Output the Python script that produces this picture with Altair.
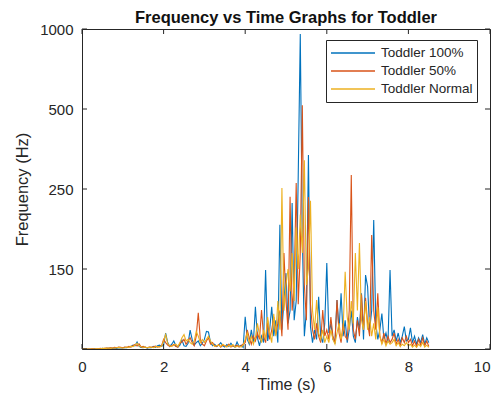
import altair as alt
import pandas as pd

# ---------------- data ----------------
times = [round(i * 0.05, 2) for i in range(171)]  # sampling grid 0 .. 8.5 s

toddler_100 = [
    0, 0, 0, 0, 0, 0, 1, 0, 1, 1, 2, 1, 2, 2, 3, 2, 3, 2, 4, 3,
    3, 5, 4, 6, 8, 12, 10, 22, 8, 5, 4, 6, 3, 5, 4, 8, 5, 10, 12, 8,
    12, 50, 20, 8, 15, 25, 10, 6, 12, 28, 10, 8, 18, 59, 30, 12, 20, 25, 10, 18,
    30, 55, 53, 20, 10, 15, 8, 12, 20, 10, 6, 14, 8, 18, 10, 6, 22, 8, 12, 5,
    101, 30, 15, 60, 20, 132, 35, 10, 40, 20, 247, 25, 60, 132, 40, 90, 20, 388, 60, 150,
    237, 80, 120, 456, 90, 150, 544, 984, 351, 40, 120, 606, 70, 20, 60, 30, 163, 40, 20, 80,
    269, 50, 80, 30, 20, 153, 60, 174, 40, 90, 20, 60, 120, 40, 20, 100, 60, 174, 30, 231,
    195, 60, 120, 403, 80, 30, 60, 111, 30, 50, 20, 247, 40, 60, 25, 50, 20, 40, 70, 25,
    30, 66, 20, 40, 15, 35, 20, 45, 15, 35, 20,
]
toddler_50 = [
    0, 0, 0, 0, 0, 1, 0, 1, 1, 2, 1, 2, 3, 2, 4, 3, 5, 4, 6, 5,
    4, 6, 5, 8, 6, 10, 14, 9, 16, 6, 8, 5, 4, 6, 5, 7, 9, 6, 8, 10,
    30, 20, 12, 8, 10, 14, 8, 6, 18, 22, 30, 15, 25, 35, 20, 10, 40, 113, 30, 15,
    10, 25, 35, 15, 20, 10, 8, 14, 6, 12, 10, 8, 15, 6, 10, 8, 12, 6, 10, 15,
    20, 60, 35, 15, 40, 25, 50, 30, 122, 40, 20, 90, 30, 60, 100, 45, 80, 120, 40, 300,
    150, 60, 476, 120, 200, 519, 140, 300, 762, 200, 90, 475, 140, 60, 30, 80, 40, 20, 122, 40,
    60, 30, 100, 40, 20, 153, 50, 20, 80, 40, 30, 120, 544, 60, 30, 90, 40, 170, 60, 160,
    80, 40, 356, 120, 60, 174, 40, 20, 50, 15, 40, 20, 30, 50, 15, 30, 10, 35, 20, 40,
    20, 30, 10, 25, 8, 30, 12, 35, 10, 25, 8,
]
toddler_normal = [
    0, 0, 0, 0, 0, 0, 0, 1, 1, 1, 2, 2, 2, 3, 2, 3, 3, 4, 5, 4,
    3, 4, 6, 5, 9, 7, 12, 18, 10, 7, 5, 6, 4, 5, 6, 4, 7, 8, 6, 9,
    25, 45, 18, 10, 8, 12, 15, 8, 20, 35, 45, 25, 30, 20, 15, 25, 55, 40, 20, 30,
    20, 30, 40, 25, 15, 8, 10, 12, 8, 15, 10, 6, 12, 8, 14, 6, 8, 10, 6, 12,
    30, 50, 20, 40, 15, 35, 80, 45, 20, 60, 30, 100, 50, 20, 110, 40, 150, 60, 503, 120,
    200, 250, 180, 300, 150, 380, 250, 420, 300, 590, 200, 250, 463, 120, 60, 153, 50, 30, 60, 20,
    40, 20, 60, 30, 15, 50, 80, 30, 60, 241, 100, 60, 150, 80, 300, 120, 331, 90, 60, 150,
    60, 100, 40, 80, 30, 130, 40, 15, 30, 10, 25, 15, 20, 30, 10, 20, 8, 15, 10, 20,
    10, 15, 6, 12, 5, 15, 8, 20, 6, 12, 5,
]

series_names = ["Toddler 100%", "Toddler 50%", "Toddler Normal"]
series_colors = ["#0072BD", "#D95319", "#EDB120"]

x_ticks = [0, 2, 4, 6, 8, 10]
y_ticks = [0, 250, 500, 750, 1000]
y_tick_labels = ["", "150", "250", "500", "1000"]

# ---------------- build table ----------------
rows = []
for name, vals in zip(series_names, [toddler_100, toddler_50, toddler_normal]):
    for t, v in zip(times, vals):
        rows.append({"time": t, "freq": v, "series": name})
df = pd.DataFrame(rows)

label_map = ", ".join(f"'{v}': '{l}'" for v, l in zip(y_ticks, y_tick_labels))
y_label_expr = "{" + label_map + "}[datum.value + '']"

W, H = 408, 320
AX = "#262626"
FONT = "Liberation Sans"

x_scale = alt.Scale(domain=[0, 10], nice=False, zero=False)
y_scale = alt.Scale(domain=[0, 1000], nice=False)

x_axis = alt.Axis(
    values=x_ticks, title="Time (s)", grid=False, ticks=False, tickSize=0,
    domain=False, labelFontSize=15, titleFontSize=16, labelPadding=10,
    titlePadding=2, labelFlush=False, labelColor=AX, titleColor=AX,
    titleFontWeight="normal", format="d", labelFont=FONT, titleFont=FONT,
    labelAlign={"condition": {"test": "datum.value == 10", "value": "right"}, "value": "center"},
)
y_axis = alt.Axis(
    values=y_ticks, labelExpr=y_label_expr, title="Frequency (Hz)", grid=False,
    ticks=False, tickSize=0, domain=False, labelFontSize=15, titleFontSize=16.5,
    labelPadding=9, titlePadding=9, labelColor=AX, titleColor=AX,
    titleFontWeight="normal", labelFont=FONT, titleFont=FONT,
)

lines = alt.Chart(df).mark_line(strokeWidth=1.1, clip=True).encode(
    x=alt.X("time:Q", scale=x_scale, axis=x_axis),
    y=alt.Y("freq:Q", scale=y_scale, axis=y_axis),
    color=alt.Color(
        "series:N",
        scale=alt.Scale(domain=series_names, range=series_colors),
        title=None,
        legend=alt.Legend(
            orient="none", legendX=244, legendY=11, symbolType="stroke", symbolSize=1936,
            symbolStrokeWidth=1.5, labelFontSize=13.5, labelColor=AX, labelFont=FONT,
            strokeColor=AX, fillColor="white", padding=4, rowPadding=0,
            labelOffset=5, cornerRadius=0, labelLimit=300, clipHeight=18,
        ),
    ),
)

xt = pd.DataFrame({"time": x_ticks})
yt = pd.DataFrame({"freq": y_ticks})

x_bottom = alt.Chart(xt).mark_rule(color=AX, strokeWidth=1).encode(
    x=alt.X("time:Q", scale=x_scale, axis=x_axis), y=alt.value(H), y2=alt.value(H - 5)
)
x_top = alt.Chart(xt).mark_rule(color=AX, strokeWidth=1).encode(
    x=alt.X("time:Q", scale=x_scale, axis=x_axis), y=alt.value(0), y2=alt.value(5)
)
y_left = alt.Chart(yt).mark_rule(color=AX, strokeWidth=1).encode(
    y=alt.Y("freq:Q", scale=y_scale, axis=y_axis), x=alt.value(0), x2=alt.value(5)
)
y_right = alt.Chart(yt).mark_rule(color=AX, strokeWidth=1).encode(
    y=alt.Y("freq:Q", scale=y_scale, axis=y_axis), x=alt.value(W - 5), x2=alt.value(W)
)

chart = (
    alt.layer(lines, x_bottom, x_top, y_left, y_right)
    .properties(
        width=W,
        height=H,
        autosize=alt.AutoSizeParams(type="none"),
        padding={"left": 74, "top": 21, "right": 6, "bottom": 44},
        title=alt.TitleParams(
            "Frequency vs Time Graphs for Toddler", fontSize=16.5, fontWeight="bold",
            color="#111111", anchor="middle", offset=-4, font=FONT,
        ),
        background="white",
    )
    .configure_view(stroke=AX, strokeWidth=1)
)

chart.save("out.html", embed_options={"renderer": "svg", "actions": False})
